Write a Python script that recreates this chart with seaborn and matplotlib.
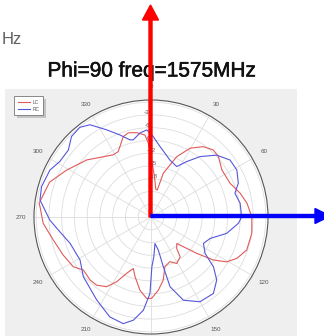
import numpy as np
import pandas as pd
import matplotlib
matplotlib.use("Agg")
import matplotlib.pyplot as plt
import matplotlib.transforms as mtransforms
import matplotlib.patheffects as pe
from matplotlib.patches import FancyArrow, Rectangle
import seaborn as sns

plt.rcParams["font.family"] = ["Liberation Sans", "DejaVu Sans"]

# Gain pattern, Phi = 90 cut (theta in degrees, gain in dB)
lc_theta = [0, 5, 10, 13, 15.7, 23.1, 29.6, 36.6, 42.9, 48.1, 56.4, 66.9, 75.1, 81.9,
            90, 99.2, 109, 115.7, 120.6, 124.6, 128.5, 132.6, 135.7, 140.6, 143.8, 151,
            157, 164.3, 169, 174.3, 179.5, 183, 188.6, 195, 199, 203.3, 207.9, 212.4,
            218.6, 224, 231.9, 237.4, 246.6, 256.8, 266.7, 275.3, 277, 289, 299, 311.6,
            328.7, 333.4, 341, 345, 350.4, 355.8, 358, 360]
lc_gain = [-12.6, -17.6, -20.4, -20.5, -16.3, -11.6, -8.4, -6.4, -5.5, -5.7, -7.0, -6.8,
           -5.3, -4.2, -3.3, -3.0, -3.2, -4.6, -6.3, -9.2, -13.3, -16.7, -18.3, -17.5,
           -15.4, -14.5, -15.6, -14.9, -11.9, -9.7, -7.9, -7.8, -9.6, -12.5, -14.2, -12.6,
           -9.8, -7.6, -6.5, -6.4, -6.8, -5.3, -4.5, -3.4, -1.6, -0.8, -0.5, -1.8, -4.3,
           -6.8, -9.9, -9.8, -7.0, -6.5, -6.9, -7.7, -9.7, -12.6]

rc_theta = [0, 1.6, 7.3, 18.4, 27, 32.8, 39.1, 46.7, 54.2, 61.3, 68.9, 74.2, 81.2, 90,
            94.1, 102.2, 109.9, 116.7, 123.9, 128.6, 133.8, 140.8, 150, 158.7, 164.7,
            166.1, 167.5, 171.5, 173, 176, 179, 180.8, 184.7, 189.7, 194.6, 202.4, 213.2,
            228.6, 238.8, 252, 262, 268.3, 278.7, 285.5, 294.9, 301.3, 309, 315.4, 321.6,
            326.5, 333, 339.3, 344.7, 347, 352.5, 357.2, 360]
rc_gain = [-7.5, -8.1, -10.3, -12.9, -13.7, -11.5, -8.7, -5.8, -4.1, -4.0, -5.0, -6.5,
           -5.8, -5.7, -6.4, -8.8, -12.2, -13.2, -11.7, -8.2, -5.6, -3.8, -4.0, -6.0,
           -10.0, -15.0, -19.0, -20.7, -19.9, -17.6, -15.3, -9.0, -5.0, -2.4, -1.1, -1.6,
           -3.7, -5.8, -7.5, -7.0, -5.0, -3.2, -0.6, -0.3, -0.8, -1.9, -2.0, -0.4, -0.1,
           -1.0, -4.0, -6.4, -8.2, -8.4, -7.1, -6.5, -7.5]

series_names = ["LC", "RC"]
series_colors = ["#e05a5a", "#5656dc"]
r_ticks = [-24, -21, -18, -15, -12, -9, -6, -3, 0]
r_labels = ["", "", "-18", "-15", "-12", "-9", "-6", "-3", ""]
angle_ticks = list(range(0, 360, 30))
# the 180 label falls below the visible canvas
angle_labels = ["" if a == 180 else str(a) for a in angle_ticks]

df = pd.concat([
    pd.DataFrame({"theta": np.deg2rad(lc_theta), "gain": lc_gain, "pol": "LC"}),
    pd.DataFrame({"theta": np.deg2rad(rc_theta), "gain": rc_gain, "pol": "RC"}),
], ignore_index=True)

W, H, DPI = 324, 336, 100
fig = plt.figure(figsize=(W / DPI, H / DPI), dpi=DPI, facecolor="white")
px = mtransforms.IdentityTransform()

# grey panel behind the polar plot
fig.add_artist(Rectangle((5, 0), 292, 247, transform=px, facecolor="#efefef",
                         edgecolor="none", zorder=0))

fig.text(2 / W, 1 - 39 / H, "Hz", color="#5f5f5f", fontsize=12, va="center", ha="left")
fig.text(152 / W, 1 - 71 / H, "Phi=90 freq=1575MHz", color="#111111", fontsize=15,
         va="center", ha="center",
         path_effects=[pe.withStroke(linewidth=0.4, foreground="#111111")])

cx, cy, R = 151, 217, 117
ax = fig.add_axes([(cx - R) / W, (H - cy - R) / H, 2 * R / W, 2 * R / H],
                  projection="polar")
ax.set_facecolor("white")
ax.set_theta_zero_location("N")
ax.set_theta_direction(-1)

sns.lineplot(data=df, x="theta", y="gain", hue="pol", hue_order=series_names,
             palette=dict(zip(series_names, series_colors)), sort=False,
             estimator=None, lw=0.8, ax=ax)

ax.set_ylim(-27, 0.5)
ax.set_yticks(r_ticks)
ax.set_yticklabels(r_labels, fontsize=4.5, color="#555555")
ax.set_rlabel_position(-4)
ax.set_xticks(np.deg2rad(angle_ticks))
ax.set_xticklabels(angle_labels, fontsize=4.5, color="#555555")
ax.tick_params(axis="x", pad=-1)
ax.grid(color="#dddddd", lw=0.6)
ax.spines["polar"].set_color("#555555")
ax.spines["polar"].set_linewidth(0.8)
ax.set_xlabel("")
ax.set_ylabel("")

leg = ax.legend(loc="upper left", bbox_to_anchor=(12 / W, 1 - 94 / H),
                bbox_transform=fig.transFigure, fontsize=3.5, frameon=True,
                fancybox=False, edgecolor="#777777", borderpad=0.7,
                handlelength=2.4, handletextpad=0.6, labelspacing=0.45,
                shadow={"facecolor": "#c4c4c4", "edgecolor": "none", "alpha": 1})
leg.get_frame().set_linewidth(0.6)
for t in leg.get_texts():
    t.set_color("#555555")

# coordinate axes drawn over the pattern
fig.add_artist(FancyArrow(150.5, H - 217, 0, 217 - 5, width=3, head_width=16,
                          head_length=15, length_includes_head=True, color="#ff0000",
                          transform=px, zorder=10))
fig.add_artist(FancyArrow(151, H - 216, 330 - 151, 0, width=3, head_width=15,
                          head_length=15, length_includes_head=True, color="#0000ff",
                          transform=px, zorder=10))

fig.savefig("out.png", dpi=DPI)
